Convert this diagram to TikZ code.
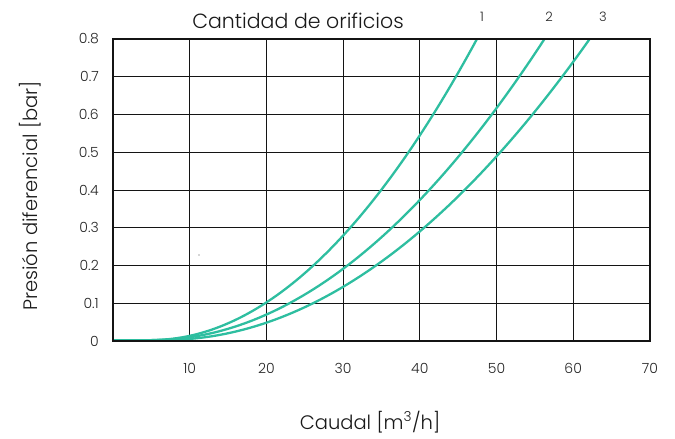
\documentclass[tikz,border=0pt]{standalone}
\usepackage{fontspec}
\setmainfont{Poppins}[UprightFont=* Light]
\definecolor{curve}{RGB}{46,190,160}
\definecolor{gridc}{RGB}{20,20,20}
\begin{document}
\begin{tikzpicture}[x=1pt,y=-1pt,
  gridline/.style={draw=gridc,line width=0.9pt},
  curveline/.style={draw=curve,line width=2.3pt},
  ticklab/.style={font=\fontsize{14}{16}\selectfont,text=black!85,inner sep=1pt},
  axlab/.style={font=\fontsize{19.5}{22}\selectfont,text=black!90},
  numlab/.style={font=\fontsize{13}{15}\selectfont,text=black!85}]
\useasboundingbox (0,0) rectangle (675,439);
% grid
\foreach \i in {1,...,6} {\draw[gridline] ({113+76.7*\i},39) -- ({113+76.7*\i},341);}
\foreach \j in {1,...,7} {\draw[gridline] (113,{341-37.75*\j}) -- (650,{341-37.75*\j});}
% curves
\begin{scope}
\clip (113,39) rectangle (650,341);
\draw[curveline] (113,340) -- ({113+7.67*6.7},340);
\draw[curveline] plot[domain=5:49,samples=80] ({113+7.67*\x},{340-377.5*0.000444*(\x-5)^2});
\draw[curveline] plot[domain=5.14:57,samples=80] ({113+7.67*\x},{340-377.5*0.0003115*(\x-5.14)^2});
\draw[curveline] plot[domain=6.7:64,samples=80] ({113+7.67*\x},{340-377.5*0.000253*(\x-6.7)^2});
\end{scope}
% frame
\draw[gridline,line width=1.1pt] (113,39) rectangle (650,341);
% stray dot
\fill[black!70] (199,255) circle (0.7pt);
% y tick labels
\foreach \j/\t in {0/0,1/0.1,2/0.2,3/0.3,4/0.4,5/0.5,6/0.6,7/0.7,8/0.8}
  {\node[ticklab,anchor=east] (y\j) at (100,{341-37.75*\j}) {\t};}
% x tick labels
\foreach \i/\t in {1/10,2/20,3/30,4/40,5/50,6/60,7/70}
  {\node[ticklab] (x\i) at ({113+76.7*\i},368) {\t};}
% titles
\node[axlab,font=\fontsize{20.5}{23}\selectfont] (title) at (298,21) {Cantidad de orificios};
\node[numlab] (n1) at (482,17) {1};
\node[numlab] (n2) at (549,17) {2};
\node[numlab] (n3) at (603,17) {3};
\node[axlab,rotate=90] (ylab) at (30,196) {Presión diferencial [bar]};
\node[axlab] (xlab) at (370,422) {Caudal [m\textsuperscript{3}/h]};
\end{tikzpicture}
\end{document}
